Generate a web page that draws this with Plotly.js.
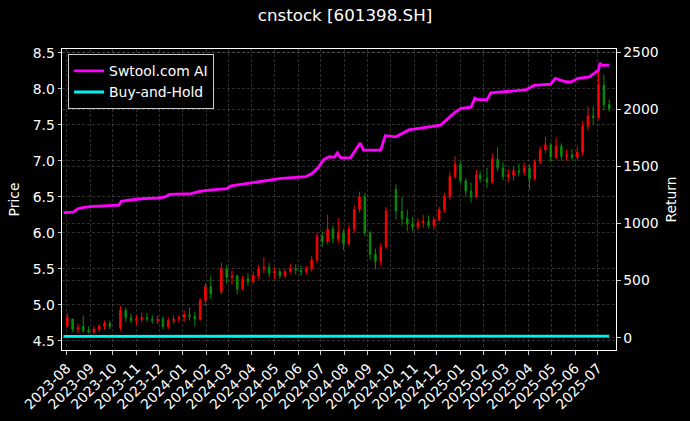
<!DOCTYPE html>
<html><head><meta charset="utf-8">
<script src="https://cdn.plot.ly/plotly-3.0.1.min.js"></script>
<style>html,body{margin:0;padding:0;background:#000;}#chart{width:690px;height:421px;}</style>
</head><body><div id="chart"></div>
<script>
// Weekly candles
const weekDates = ["2023-08-02","2023-08-09","2023-08-16","2023-08-23","2023-08-30","2023-09-06","2023-09-13","2023-09-20","2023-09-27",
"2023-10-11","2023-10-18","2023-10-25","2023-11-01","2023-11-08","2023-11-15","2023-11-22","2023-11-29","2023-12-06","2023-12-13","2023-12-20","2023-12-27",
"2024-01-03","2024-01-10","2024-01-17","2024-01-24","2024-01-31","2024-02-07","2024-02-21","2024-02-28","2024-03-06","2024-03-13","2024-03-20","2024-03-27",
"2024-04-03","2024-04-10","2024-04-17","2024-04-24","2024-05-01","2024-05-08","2024-05-15","2024-05-22","2024-05-29","2024-06-05","2024-06-12","2024-06-19","2024-06-26",
"2024-07-03","2024-07-10","2024-07-17","2024-07-24","2024-07-31","2024-08-07","2024-08-14","2024-08-21","2024-08-28","2024-09-04","2024-09-11","2024-09-18","2024-09-25",
"2024-10-08","2024-10-16","2024-10-23","2024-10-30","2024-11-06","2024-11-13","2024-11-20","2024-11-27","2024-12-04","2024-12-11","2024-12-18","2024-12-25",
"2025-01-01","2025-01-08","2025-01-15","2025-01-22","2025-01-27","2025-02-05","2025-02-12","2025-02-19","2025-02-26","2025-03-05","2025-03-12","2025-03-19","2025-03-26",
"2025-04-02","2025-04-09","2025-04-16","2025-04-23","2025-04-30","2025-05-07","2025-05-14","2025-05-21","2025-05-28","2025-06-04","2025-06-11","2025-06-18","2025-06-25",
"2025-07-02","2025-07-09","2025-07-16"];
const openPrice = [4.70,4.80,4.66,4.70,4.64,4.62,4.66,4.70,4.74,
4.68,4.92,4.82,4.78,4.80,4.82,4.80,4.78,4.80,4.70,4.78,4.80,
4.82,4.86,4.84,4.80,5.06,5.25,5.18,5.50,5.38,5.40,5.22,5.36,
5.32,5.40,5.50,5.52,5.44,5.46,5.40,5.46,5.50,5.48,5.46,5.50,5.62,
5.95,5.88,6.05,5.92,6.00,5.85,6.05,6.32,6.50,6.00,5.70,5.60,5.80,
6.60,6.30,6.20,6.12,6.08,6.14,6.16,6.10,6.18,6.32,6.50,6.78,
6.95,6.72,6.58,6.50,6.80,6.75,6.70,7.02,6.90,6.78,6.80,6.86,6.84,
6.90,6.75,6.98,7.15,7.22,7.05,7.20,7.06,7.08,7.05,7.12,7.48,7.62,
7.60,8.05,7.78];
const highPrice = [4.89,4.80,4.74,4.85,4.70,4.70,4.73,4.78,4.78,
4.98,4.96,4.88,4.86,4.89,4.88,4.86,4.85,4.84,4.82,4.85,4.86,
4.92,4.96,4.90,5.10,5.30,5.40,5.58,5.55,5.48,5.42,5.40,5.44,
5.46,5.55,5.66,5.58,5.52,5.50,5.50,5.56,5.56,5.54,5.54,5.68,6.00,
6.02,6.25,6.10,6.20,6.05,6.10,6.38,6.57,6.55,6.02,5.78,5.85,6.36,
6.67,6.50,6.32,6.22,6.20,6.25,6.24,6.22,6.36,6.55,6.85,7.06,
7.00,6.76,6.70,6.87,6.86,6.90,7.10,7.19,6.98,6.88,6.92,6.96,6.97,
6.95,7.02,7.20,7.33,7.25,7.32,7.24,7.15,7.16,7.20,7.55,7.75,7.76,
8.30,8.20,7.85];
const lowPrice = [4.68,4.62,4.60,4.61,4.60,4.59,4.62,4.65,4.66,
4.64,4.76,4.74,4.72,4.75,4.76,4.74,4.73,4.66,4.66,4.74,4.75,
4.76,4.78,4.70,4.78,4.98,5.08,5.15,5.30,5.28,5.15,5.20,5.26,
5.28,5.36,5.44,5.38,5.36,5.36,5.37,5.44,5.42,5.40,5.42,5.46,5.58,
5.80,5.84,5.85,5.86,5.76,5.82,6.00,6.28,5.95,5.62,5.49,5.55,5.78,
6.18,6.10,6.02,6.02,6.04,6.07,6.06,6.04,6.15,6.28,6.46,6.75,
6.68,6.50,6.42,6.48,6.70,6.62,6.68,6.85,6.73,6.70,6.72,6.78,6.80,
6.60,6.72,6.95,7.10,6.98,7.02,7.00,7.00,7.00,7.00,7.08,7.42,7.50,
7.58,7.70,7.68];
const closePrice = [4.82,4.66,4.68,4.64,4.62,4.66,4.70,4.74,4.70,
4.92,4.82,4.78,4.80,4.82,4.80,4.78,4.80,4.70,4.78,4.80,4.82,
4.86,4.84,4.80,5.06,5.25,5.15,5.50,5.38,5.40,5.22,5.36,5.32,
5.40,5.50,5.52,5.44,5.46,5.40,5.46,5.50,5.48,5.46,5.50,5.62,5.95,
5.88,6.05,5.92,6.00,5.85,6.05,6.32,6.50,6.00,5.70,5.60,5.80,6.30,
6.30,6.20,6.12,6.08,6.14,6.16,6.10,6.18,6.32,6.50,6.78,6.95,
6.72,6.58,6.50,6.80,6.75,6.70,7.02,6.90,6.78,6.80,6.86,6.84,6.90,
6.75,6.98,7.15,7.22,7.05,7.20,7.06,7.08,7.05,7.12,7.48,7.62,7.60,
8.05,7.78,7.72];

// Strategy return curve (right axis)
const aiDates = ["2023-07-28","2023-08-10","2023-08-16","2023-08-22","2023-09-04","2023-09-20","2023-09-28","2023-10-09","2023-10-12","2023-10-25",
"2023-11-03","2023-11-30","2023-12-08","2023-12-15","2024-01-12","2024-01-22","2024-02-02","2024-02-28","2024-03-05","2024-03-20",
"2024-04-10","2024-05-10","2024-06-11","2024-06-20","2024-06-28","2024-07-05","2024-07-12","2024-07-19","2024-07-23","2024-07-27",
"2024-08-09","2024-08-20","2024-08-22","2024-08-26","2024-09-18","2024-09-24","2024-10-08","2024-10-25","2024-11-20","2024-12-06",
"2024-12-25","2025-01-02","2025-01-15","2025-01-20","2025-01-24","2025-02-05","2025-02-10","2025-03-05","2025-03-28","2025-04-08",
"2025-04-30","2025-05-06","2025-05-20","2025-05-27","2025-06-05","2025-06-20","2025-07-02","2025-07-04","2025-07-07","2025-07-16"];
const aiReturn = [1095,1100,1130,1140,1150,1158,1160,1162,1195,1205,
1215,1225,1232,1255,1262,1280,1290,1305,1330,1345,
1365,1395,1410,1440,1495,1560,1585,1582,1618,1578,
1575,1690,1705,1645,1643,1770,1760,1820,1845,1862,
1976,2010,2020,2098,2085,2085,2145,2155,2170,2210,
2222,2272,2242,2240,2272,2285,2345,2405,2385,2388];

// Buy-and-hold curve (right axis)
const bhDates = ["2023-07-28","2024-01-02","2024-07-01","2025-01-02","2025-07-16"];
const bhReturn = [12,12,13,14,14];

const FONT = "DejaVu Sans";
const gridStyle = {showgrid:true, gridcolor:"rgba(150,150,150,0.5)", gridwidth:0.6, griddash:"3px,2px"};

const traces = [
  {type:"candlestick", x:weekDates, open:openPrice, high:highPrice, low:lowPrice, close:closePrice,
   xaxis:"x", yaxis:"y", showlegend:false, whiskerwidth:0,
   increasing:{line:{color:"#ff0000", width:1}, fillcolor:"#ff0000"},
   decreasing:{line:{color:"#0a8a0a", width:1}, fillcolor:"#0a8a0a"},
   hoverinfo:"skip"},
  {type:"scatter", mode:"lines", x:aiDates, y:aiReturn, name:"Swtool.com AI", xaxis:"x", yaxis:"y2",
   line:{color:"#ff00ff", width:2.8}},
  {type:"scatter", mode:"lines", x:bhDates, y:bhReturn, name:"Buy-and-Hold", xaxis:"x", yaxis:"y2",
   line:{color:"#00f0f0", width:2.8}}
];

const layout = {
  width:690, height:421,
  paper_bgcolor:"#000", plot_bgcolor:"#000",
  font:{family:FONT, color:"#ffffff", size:13.9},
  margin:{l:62, r:74, t:49, b:71, pad:0},
  boxgap:0.45,
  title:{text:"cnstock [601398.SH]", font:{family:FONT, size:16.7, color:"#ffffff"},
         x:0.5, xref:"container", xanchor:"center", y:1-15/421, yref:"container", yanchor:"middle"},
  xaxis:Object.assign({type:"date", range:["2023-07-26","2025-07-25"], tick0:"2023-08-01", dtick:"M1", tickformat:"%Y-%m",
    tickangle:-45, ticks:"outside", ticklen:3.5, tickwidth:0.8, tickcolor:"#fff",
    showline:true, linecolor:"#fff", linewidth:1, mirror:true, zeroline:false,
    rangeslider:{visible:false}, tickfont:{family:FONT, size:13.9, color:"#fff"}}, gridStyle),
  yaxis:Object.assign({range:[4.371, 8.551], dtick:0.5, tick0:4.5, tickformat:".1f",
    ticks:"outside", ticklen:3.5, tickwidth:0.8, tickcolor:"#fff",
    showline:true, linecolor:"#fff", linewidth:1, zeroline:false,
    title:{text:"Price", font:{family:FONT, size:13.9, color:"#fff"}, standoff:9},
    tickfont:{family:FONT, size:13.9, color:"#fff"}}, gridStyle),
  yaxis2:Object.assign({overlaying:"y", side:"right", range:[-107.7, 2528.9], dtick:500, tick0:0,
    ticks:"outside", ticklen:3.5, tickwidth:0.8, tickcolor:"#fff",
    showline:true, linecolor:"#fff", linewidth:1, zeroline:false,
    title:{text:"Return", font:{family:FONT, size:13.9, color:"#fff"}, standoff:8},
    tickfont:{family:FONT, size:13.9, color:"#fff"}}, gridStyle),
  legend:{x:0.011, y:0.982, xanchor:"left", yanchor:"top", bgcolor:"#000", bordercolor:"#cccccc", borderwidth:1,
    font:{family:FONT, size:13.9, color:"#fff"}, tracegroupgap:0, itemwidth:30},
  showlegend:true
};

Plotly.newPlot("chart", traces, layout, {staticPlot:true, displayModeBar:false});
</script>
</body></html>
